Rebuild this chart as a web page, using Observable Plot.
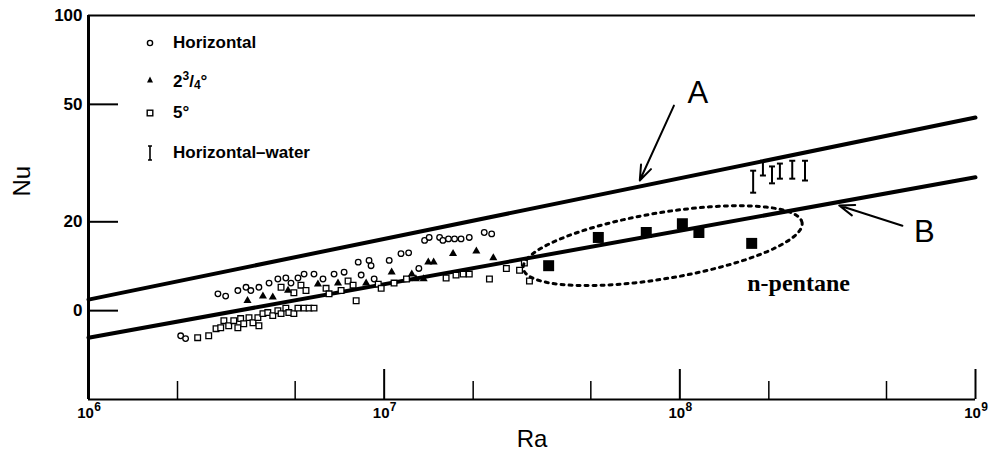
<!DOCTYPE html>
<html><head><meta charset="utf-8">
<script src="https://cdn.jsdelivr.net/npm/d3@7"></script>
<script src="https://cdn.jsdelivr.net/npm/@observablehq/plot@0.6"></script>
<style>
body{margin:0;background:#fff;}
#wrap{position:relative;width:990px;height:462px;font-family:"Liberation Sans",Arial,sans-serif;}
#legend .row{position:absolute;left:142px;height:20px;display:flex;align-items:center;font-weight:bold;font-size:17px;color:#000;white-space:nowrap;}
#legend .row svg{width:16px;height:20px;margin-right:15px;}
#legend sup{font-size:12px;vertical-align:7px;}
#legend sub{font-size:12px;vertical-align:-2px;}
</style></head><body><div id="wrap"><div id="legend"></div></div>
<script>
// ---- data (Ra, Nu) ----
const horizontalRa = [2.05e6,2.13e6,2.74e6,2.91e6,3.20e6,3.41e6,3.54e6,3.77e6,4.08e6,4.37e6,4.65e6,4.84e6,5.11e6,5.36e6,5.79e6,6.21e6,6.77e6,7.32e6,8.17e6,8.36e6,8.89e6,9.03e6,9.25e6,1.04e7,1.14e7,1.21e7,1.31e7,1.37e7,1.42e7,1.54e7,1.58e7,1.65e7,1.73e7,1.82e7,1.94e7,2.18e7,2.31e7];
const horizontalNu = [8.22,8.04,11.4,11.2,11.7,12.0,11.7,12.0,12.4,12.8,12.9,12.4,12.9,13.3,13.3,12.8,13.3,13.5,14.6,13.2,14.8,14.2,12.8,14.8,15.6,15.7,13.9,17.3,17.7,17.7,17.3,17.5,17.5,17.5,17.7,18.4,18.2];
const tiltedRa = [3.45e6,3.89e6,4.20e6,4.73e6,5.97e6,6.98e6,8.69e6,1.06e7,1.24e7,1.28e7,1.36e7,1.41e7,1.47e7,1.71e7,2.05e7,2.34e7];
const tiltedNu = [10.8,11.2,11.1,11.7,12.3,12.4,12.4,13.5,13.3,12.8,12.8,14.6,14.6,15.6,15.9,15.1];
const fiveDegRa = [2.34e6,2.55e6,2.70e6,2.80e6,2.87e6,2.98e6,3.10e6,3.20e6,3.27e6,3.35e6,3.49e6,3.60e6,3.74e6,3.77e6,3.89e6,4.04e6,4.20e6,4.37e6,4.48e6,4.65e6,4.76e6,4.95e6,5.11e6,5.36e6,5.57e6,5.79e6,4.48e6,4.95e6,5.23e6,5.44e6,6.36e6,6.51e6,7.15e6,7.55e6,7.85e6,8.04e6,9.55e6,9.77e6,1.08e7,1.19e7,1.62e7,1.75e7,1.85e7,1.94e7,2.27e7,2.59e7,2.87e7,2.98e7,3.10e7];
const fiveDegNu = [8.10,8.22,8.69,8.75,9.25,8.89,9.25,8.75,9.40,9.03,9.47,9.10,9.47,8.89,9.77,9.85,9.62,10.0,9.77,10.2,9.85,9.77,10.2,10.2,10.2,10.2,12.0,11.5,12.2,11.7,11.9,11.4,11.7,12.6,12.2,10.8,12.3,11.9,12.4,12.8,12.9,13.2,13.3,13.3,12.8,13.9,13.7,14.5,12.6];
const pentaneRa = [3.6e7,5.3e7,7.7e7,1.02e8,1.16e8,1.75e8];
const pentaneNu = [14.2,17.7,18.4,19.7,18.4,16.9];
const waterRa = [1.77e8,1.91e8,2.05e8,2.18e8,2.40e8,2.65e8];
const waterNuLow = [25.1,28.7,27.0,28.0,28.0,27.6];
const waterNuHigh = [29.8,32.2,30.8,31.5,32.2,32.2];
const lineRa = [1e6, 1e9];
const lineANu = [10.9, 45.1];
const lineBNu = [8.1, 28.3];
// annotations
const labelText = ["A", "B"];
const labelRa = [1.15e8, 6.71e8];
const labelNu = [54.8, 18.5];
const arrowFromRa = [9.55e7, 5.66e8], arrowFromNu = [49.5, 19.4];
const arrowToRa = [7.32e7, 3.46e8], arrowToNu = [27.6, 22.7];
const pentaneLabel = "n-pentane", pentaneLabelRa = 1.69e8, pentaneLabelNu = 12.4;
const ellipseCenterRa = 8.75e7, ellipseCenterNu = 16.6;      // centre
const ellipseHalfAxes = [0.478, 0.112], ellipseAngleDeg = 9.4; // decades, degrees
// axes
const xMajorTicks = [1e6,1e7,1e8,1e9];
const xTickBase = "10";
const xTickExponents = ["6","7","8","9"];
const xMinorTicks = [2e6,5e6,2e7,5e7,2e8,5e8];
const yTickValues = [10,20,50,100];
const yTickLabels = ["0","20","50","100"];
const yTickMarks = [10,20,50];
const legendItems = ["Horizontal","2<sup>3</sup>/<sub>4</sub>°","5°","Horizontal–water"];

const zip = (xs, ys) => xs.map((x, i) => ({Ra: x, Nu: ys[i]}));
const horizontal = zip(horizontalRa, horizontalNu);
const tilted = zip(tiltedRa, tiltedNu);
const fiveDeg = zip(fiveDegRa, fiveDegNu);
const pentane = zip(pentaneRa, pentaneNu);
const water = waterRa.map((r, i) => ({Ra: r, lo: waterNuLow[i], hi: waterNuHigh[i]}));
const lineA = zip(lineRa, lineANu), lineB = zip(lineRa, lineBNu);
const labels = labelText.map((t, i) => ({t, Ra: labelRa[i], Nu: labelNu[i]}));
const arrows = arrowFromRa.map((r, i) => ({x1: r, y1: arrowFromNu[i], x2: arrowToRa[i], y2: arrowToNu[i]}));
const th = ellipseAngleDeg * Math.PI / 180;
const ellipse = d3.range(0, 360, 4).map(a => {
  const t = a * Math.PI / 180;
  const u = ellipseHalfAxes[0] * Math.cos(t), v = ellipseHalfAxes[1] * Math.sin(t);
  return {Ra: ellipseCenterRa * Math.pow(10, u * Math.cos(th) - v * Math.sin(th)),
          Nu: ellipseCenterNu * Math.pow(10, u * Math.sin(th) + v * Math.cos(th))};
});
const capSymbol = {draw(ctx, size) { const r = Math.sqrt(size / Math.PI); ctx.moveTo(-r, 0); ctx.lineTo(r, 0); }};

const frameW = 990 - 88 - 15, frameH = 462 - 15 - 63;
const chart = Plot.plot({
  width: 990, height: 462,
  marginLeft: 88, marginRight: 15, marginTop: 15, marginBottom: 63,
  x: {type: "log", domain: [1e6, 1e9], axis: null},
  y: {type: "log", domain: [5, 100], axis: null},
  style: {background: "white", color: "black", overflow: "visible", fontFamily: "Liberation Sans, Arial, sans-serif"},
  marks: [
    // frame
    Plot.ruleX([1e6], {strokeWidth: 3}),
    Plot.ruleY([5], {strokeWidth: 2}),
    Plot.ruleY([100], {strokeWidth: 2}),
    // ticks
    Plot.ruleX(xMajorTicks, {x: d => d, insetTop: frameH - 30, strokeWidth: 2}),
    Plot.ruleX(xMinorTicks, {x: d => d, insetTop: frameH - 18, strokeWidth: 1.5}),
    Plot.ruleY(yTickMarks, {y: d => d, insetRight: frameW - 30, strokeWidth: 2}),
    Plot.text(xMajorTicks, {x: d => d, frameAnchor: "bottom", dy: 18, dx: -3, text: () => xTickBase, fontSize: 15, fontWeight: "bold"}),
    Plot.text(xMajorTicks, {x: d => d, frameAnchor: "bottom", dy: 11, dx: 9, text: (d, i) => xTickExponents[i], fontSize: 12, fontWeight: "bold"}),
    Plot.text(yTickValues, {y: d => d, frameAnchor: "left", dx: -6, textAnchor: "end", text: (d, i) => yTickLabels[i], fontSize: 17, fontWeight: "bold"}),
    Plot.text(["Ra"], {frameAnchor: "bottom", dy: 47, text: d => d, fontSize: 24}),
    Plot.text(["Nu"], {frameAnchor: "left", dx: -66, dy: -11, rotate: -90, text: d => d, fontSize: 24}),
    // correlation lines
    Plot.line(lineA, {x: "Ra", y: "Nu", strokeWidth: 4}),
    Plot.line(lineB, {x: "Ra", y: "Nu", strokeWidth: 4}),
    // data
    Plot.dot(horizontal, {x: "Ra", y: "Nu", r: 2.8, stroke: "black", strokeWidth: 1.3, fill: "white"}),
    Plot.dot(fiveDeg, {x: "Ra", y: "Nu", symbol: "square", r: 3.2, stroke: "black", strokeWidth: 1.3, fill: "white"}),
    Plot.dot(tilted, {x: "Ra", y: "Nu", symbol: "triangle", r: 3, fill: "black", stroke: "none"}),
    Plot.dot(pentane, {x: "Ra", y: "Nu", symbol: "square", r: 6.2, fill: "black"}),
    Plot.ruleX(water, {x: "Ra", y1: "lo", y2: "hi", strokeWidth: 2}),
    Plot.dot(water, {x: "Ra", y: "lo", symbol: capSymbol, r: 3, stroke: "black", strokeWidth: 2}),
    Plot.dot(water, {x: "Ra", y: "hi", symbol: capSymbol, r: 3, stroke: "black", strokeWidth: 2}),
    // annotations
    Plot.line(ellipse, {x: "Ra", y: "Nu", curve: "linear-closed", strokeWidth: 3, strokeDasharray: "3,5"}),
    Plot.arrow(arrows, {x1: "x1", y1: "y1", x2: "x2", y2: "y2", strokeWidth: 2, headLength: 12, headAngle: 40}),
    Plot.text(labels, {x: "Ra", y: "Nu", text: "t", fontSize: 31}),
    Plot.text([pentaneLabel], {x: () => pentaneLabelRa, y: () => pentaneLabelNu, text: d => d, textAnchor: "start", fontSize: 24, fontWeight: "bold", fontFamily: "Liberation Serif, serif"})
  ]
});
document.getElementById("wrap").prepend(chart);

// legend
const legendY = [43, 80, 113, 153];
const legendSymbols = [
  '<circle cx="8" cy="10" r="2.6" fill="white" stroke="black" stroke-width="1.4"/>',
  '<path d="M8,6.5 L11,12.5 L5,12.5Z" fill="black"/>',
  '<rect x="5.2" y="7.2" width="5.6" height="5.6" fill="white" stroke="black" stroke-width="1.4"/>',
  '<path d="M8,3 V17 M6,3 H10 M6,17 H10" stroke="black" stroke-width="1.6" fill="none"/>'
];
const leg = document.getElementById("legend");
legendItems.forEach((t, i) => {
  const row = document.createElement("div");
  row.className = "row";
  row.style.top = (legendY[i] - 10) + "px";
  row.innerHTML = '<svg viewBox="0 0 16 20">' + legendSymbols[i] + '</svg><span>' + t + '</span>';
  leg.appendChild(row);
});
</script>
</body></html>
